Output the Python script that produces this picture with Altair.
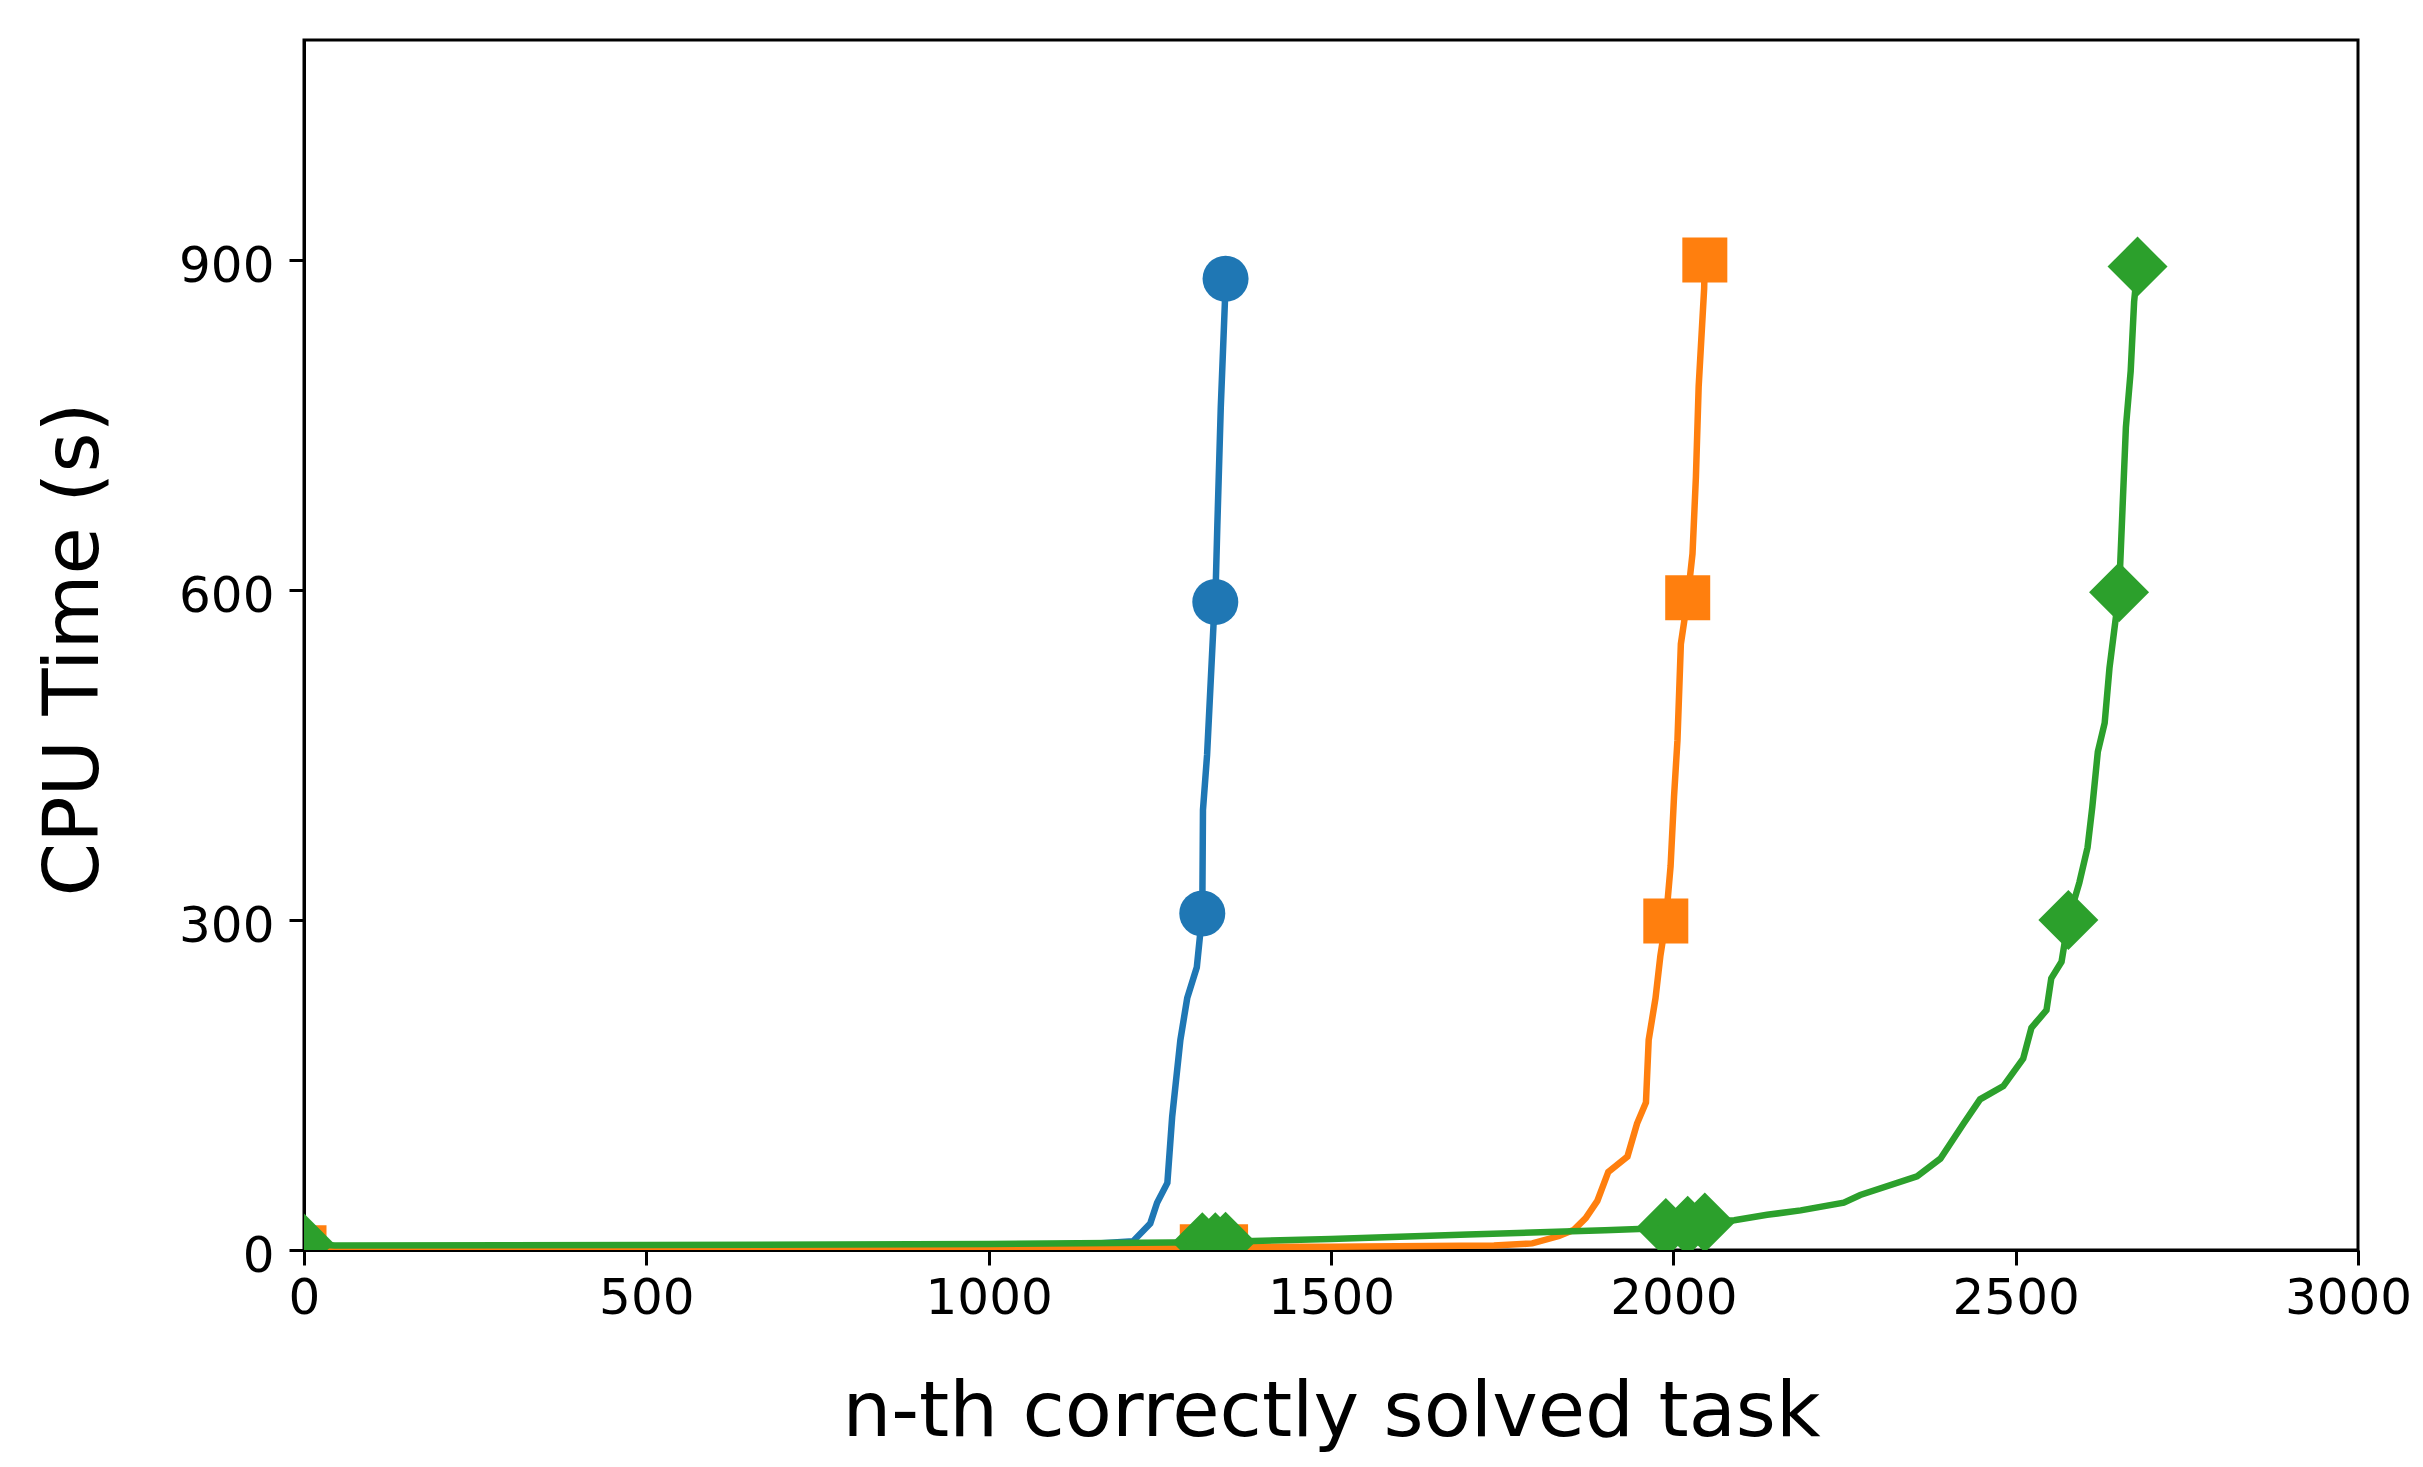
import altair as alt
import pandas as pd

# ---- data ----
blue_x = [0, 500, 1000, 1159, 1211, 1236, 1246, 1261, 1268, 1280, 1290, 1304, 1312, 1313, 1319, 1329, 1331, 1334, 1339, 1345, 1346]
blue_y = [3, 3, 4, 6, 8, 24, 43, 61, 121, 191, 229, 257, 306, 400, 450, 576, 589, 659, 766, 861, 883]

orange_x = [0, 500, 1000, 1500, 1738, 1794, 1833, 1855, 1872, 1889, 1905, 1933, 1947, 1960, 1964, 1974, 1981, 1989, 1996, 2001, 2006, 2011, 2021, 2028, 2033, 2037, 2045, 2046]
orange_y = [2, 2, 2.5, 3, 4, 6, 12.7, 18.5, 29, 44.6, 71, 85, 115, 134, 191, 229, 267, 299, 349, 412, 463, 551, 593, 633, 703, 785, 874, 900]

green_x = [0, 45, 500, 1000, 1312, 1346, 1500, 1700, 1900, 1989, 2021, 2046, 2089, 2137, 2186, 2249, 2273, 2356, 2390, 2424, 2448, 2482, 2511, 2523, 2545, 2552, 2567, 2577, 2593, 2605, 2612, 2620, 2630, 2637, 2651, 2656, 2661, 2668, 2673, 2678]
green_y = [6, 4, 4.5, 5.5, 7, 7.5, 10, 14, 18, 20, 22, 25, 27, 32, 36, 43, 50, 67, 83, 115, 137, 149, 174, 202, 218, 247, 262, 300, 334, 366, 403, 453, 479, 529, 598, 673, 748, 799, 862, 894]

blue_mx = [0, 1312, 1331, 1346]
blue_my = [3, 306, 589, 883]
orange_mx = [0, 1312, 1331, 1346, 1989, 2021, 2046]
orange_my = [2, 3, 3, 3, 299, 593, 900]
green_mx = [0, 1312, 1331, 1346, 1989, 2021, 2046, 2577, 2651, 2678]
green_my = [6, 7, 7, 7.5, 20, 22, 25, 300, 598, 894]

x_ticks = [0, 500, 1000, 1500, 2000, 2500, 3000]
y_ticks = [0, 300, 600, 900]

FONT = "DejaVu Sans"

x_enc = alt.X(
    "x:Q",
    scale=alt.Scale(domain=[0, 3000], nice=False, zero=False),
    axis=alt.Axis(
        values=x_ticks, format="d", title="n-th correctly solved task", grid=False,
        labelFont=FONT, labelFontSize=50, labelColor="black", labelPadding=8,
        labelOffset=alt.ExprRef(expr="datum.value == 3000 ? -10 : 0"),
        labelFlush=False, labelOverlap=False, labelBound=False,
        tickSize=15, tickWidth=3, tickColor="black",
        domainColor="black", domainWidth=3,
        titleFont=FONT, titleFontSize=77, titleFontWeight="normal", titleColor="black",
        titleBaseline="alphabetic", titleY=185,
    ),
)
y_enc = alt.Y(
    "y:Q",
    scale=alt.Scale(domain=[0, 1100], nice=False, zero=False),
    axis=alt.Axis(
        values=y_ticks, format="d", title="CPU Time (s)", grid=False,
        labelFont=FONT, labelFontSize=50, labelColor="black", labelPadding=15,
        labelOffset=6, labelFlush=False, labelOverlap=False, labelBound=False,
        tickSize=15, tickWidth=3, tickColor="black",
        domainColor="black", domainWidth=3,
        titleFont=FONT, titleFontSize=77, titleFontWeight="normal", titleColor="black",
        titleBaseline="alphabetic", titleAngle=270, titleX=-207, titleY=609,
        titleAlign="center",
    ),
)


def series_layers(xs, ys, mxs, mys, color, shape, size):
    df_line = pd.DataFrame({"x": xs, "y": ys, "i": list(range(len(xs)))})
    df_mark = pd.DataFrame({"x": mxs, "y": mys})
    line = alt.Chart(df_line).mark_line(color=color, strokeWidth=6.5, clip=True).encode(
        x=x_enc, y=y_enc, order="i:Q"
    )
    pts = alt.Chart(df_mark).mark_point(
        shape=shape, filled=True, size=size, color=color, opacity=1, strokeWidth=0, clip=True
    ).encode(x=x_enc, y=y_enc)
    return [line, pts]


layers = []
layers += series_layers(blue_x, blue_y, blue_mx, blue_my, "#1f77b4", "circle", 2116)
layers += series_layers(orange_x, orange_y, orange_mx, orange_my, "#ff7f0e", "square", 2025)
layers += series_layers(green_x, green_y, green_mx, green_my, "#2ca02c", "diamond", 3600)

chart = alt.layer(*layers).properties(
    width=2054,
    height=1210,
    autosize=alt.AutoSizeParams(type="none"),
    padding={"left": 296, "top": 32, "right": 57, "bottom": 204},
    background="white",
).configure_view(stroke="black", strokeWidth=3)

chart.save("out.html", embed_options={"renderer": "svg", "actions": False})
